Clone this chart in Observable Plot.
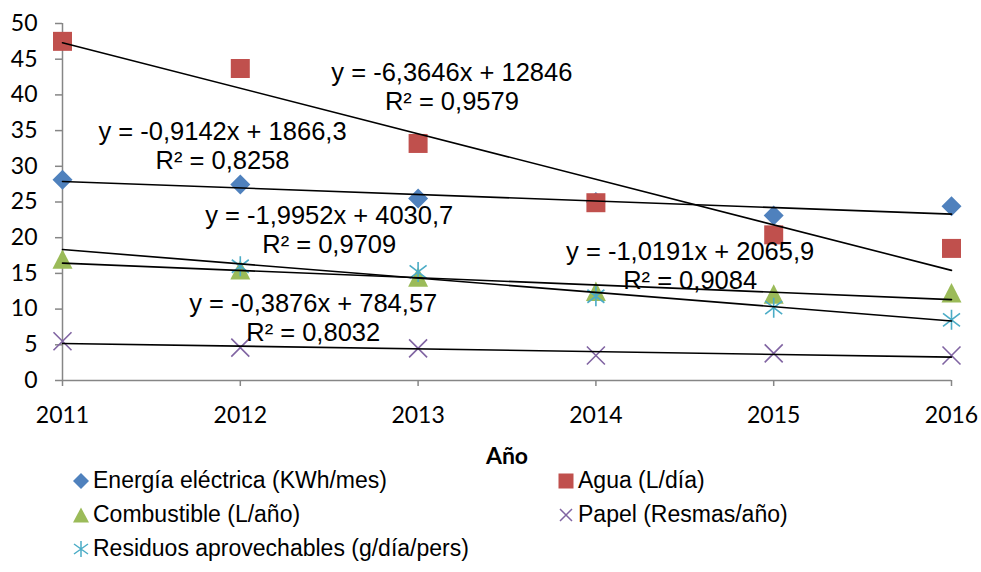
<!DOCTYPE html>
<html><head><meta charset="utf-8">
<script src="https://cdn.jsdelivr.net/npm/d3@7"></script>
<script src="https://cdn.jsdelivr.net/npm/@observablehq/plot@0.6"></script>
<style>
body{margin:0;background:#fff;}
#chart{position:relative;width:981px;height:572px;}
.legend{position:absolute;left:0;top:470px;width:981px;font-family:"Liberation Sans",Arial,sans-serif;font-size:23px;color:#000;}
.item{position:absolute;height:35px;line-height:35px;white-space:nowrap;display:flex;align-items:center;}
.item svg{margin-right:4px;flex:none;}
</style></head><body><div id="chart"></div><script>
// ---- data ----
const years = [2011, 2012, 2013, 2014, 2015, 2016];
const energia = [28.1, 27.45, 25.5, 25.0, 23.1, 24.4];
const agua = [47.5, 43.7, 33.2, 24.9, 20.4, 18.5];
const combustible = [16.9, 15.4, 14.4, 12.4, 12.0, 12.2];
const papel = [5.5, 4.6, 4.5, 3.5, 3.8, 3.5];
const residuos = [null, 16.0, 15.2, 11.8, 10.2, 8.5];
const seriesNames = ["Energía eléctrica (KWh/mes)", "Agua (L/día)", "Combustible (L/año)", "Papel (Resmas/año)", "Residuos aprovechables (g/día/pers)"];
const equations = ["y = -0,9142x + 1866,3", "y = -6,3646x + 12846", "y = -1,0191x + 2065,9", "y = -0,3876x + 784,57", "y = -1,9952x + 4030,7"];
const rSquared = ["R² = 0,8258", "R² = 0,9579", "R² = 0,9084", "R² = 0,8032", "R² = 0,9709"];
const yTicks = [0, 5, 10, 15, 20, 25, 30, 35, 40, 45, 50];
const xTicks = [2011, 2012, 2013, 2014, 2015, 2016];
// annotation anchor positions (data units)
const labelX = [2011.9, 2013.19, 2014.53, 2012.41, 2012.5];
const labelY = [33.0, 41.2, 16.2, 8.9, 21.2];

const colors = ["#4F81BD", "#C0504D", "#9BBB59", "#8064A2", "#4BACC6"];
const values = [energia, agua, combustible, papel, residuos];

// custom Excel-like marker symbols (unit = sqrt(size/PI) = r)
const mk = (fn) => ({draw(ctx, size) { const h = Math.sqrt(size / Math.PI) / 10; fn(ctx, h); }});
const symDiamond = mk((c, h) => { c.moveTo(0, -10*h); c.lineTo(10*h, 0); c.lineTo(0, 10*h); c.lineTo(-10*h, 0); c.closePath(); });
const symSquare = mk((c, h) => { c.moveTo(-9.5*h, -9.5*h); c.lineTo(9.5*h, -9.5*h); c.lineTo(9.5*h, 9.5*h); c.lineTo(-9.5*h, 9.5*h); c.closePath(); });
const symTriangle = mk((c, h) => { c.moveTo(0, -10.5*h); c.lineTo(10*h, 9*h); c.lineTo(-10*h, 9*h); c.closePath(); });
const symTimes = mk((c, h) => { c.moveTo(-9*h, -9*h); c.lineTo(9*h, 9*h); c.moveTo(-9*h, 9*h); c.lineTo(9*h, -9*h); });
const symAst = mk((c, h) => { c.moveTo(-8.5*h, -6.5*h); c.lineTo(8.5*h, 6.5*h); c.moveTo(-8.5*h, 6.5*h); c.lineTo(8.5*h, -6.5*h); c.moveTo(0, -10*h); c.lineTo(0, 10*h); });
const symbols = [symDiamond, symSquare, symTriangle, symTimes, symAst];
const filled = [true, true, true, false, false];

// tidy points
const points = [];
values.forEach((vals, s) => vals.forEach((v, i) => { if (v != null) points.push({s, x: years[i], y: v}); }));

// least-squares trend lines, drawn across the full year range
const trend = [];
values.forEach((vals, s) => {
  const pts = vals.map((v, i) => [years[i], v]).filter(d => d[1] != null);
  const mx = d3.mean(pts, d => d[0]), my = d3.mean(pts, d => d[1]);
  const b = d3.sum(pts, d => (d[0] - mx) * (d[1] - my)) / d3.sum(pts, d => (d[0] - mx) ** 2);
  const a = my - b * mx;
  [years[0], years[years.length - 1]].forEach(x => trend.push({s, x, y: a + b * x}));
});

const labels = equations.map((e, i) => ({x: labelX[i], y: labelY[i], text: e + "\n" + rSquared[i]}));

const marks = [
  Plot.ruleY([0], {stroke: "#868686", strokeWidth: 1.5}),
  Plot.ruleX([2011], {stroke: "#868686", strokeWidth: 1.5}),
  Plot.axisY({ticks: yTicks, tickSize: 7, tickPadding: 18, stroke: "#868686", strokeWidth: 1.5, strokeOpacity: 1,
    fontSize: 23, fontFamily: "Lato", fill: "#000", label: null}),
  Plot.axisX({ticks: xTicks, tickFormat: d => String(d), tickSize: 6, tickPadding: 20, stroke: "#868686", strokeWidth: 1.5, strokeOpacity: 1,
    fontSize: 23, fontFamily: "Lato", fill: "#000", label: null}),
  Plot.text(["Año"], {frameAnchor: "bottom", dy: 76, fontSize: 23, fontWeight: "bold", fontFamily: "Lato", fill: "#000", lineAnchor: "middle"})
];
symbols.forEach((sym, s) => {
  const data = points.filter(d => d.s === s);
  marks.push(Plot.dot(data, filled[s]
    ? {x: "x", y: "y", r: 10, symbol: sym, fill: colors[s], stroke: "none"}
    : {x: "x", y: "y", r: 10, symbol: sym, fill: "none", stroke: colors[s], strokeWidth: 1.6}));
});
marks.push(Plot.line(trend, {x: "x", y: "y", z: "s", stroke: "#000", strokeWidth: 1.6}));
marks.push(Plot.text(labels, {x: "x", y: "y", text: "text", fontSize: 25.5, fontFamily: "Liberation Sans", fill: "#000",
  lineAnchor: "middle", lineHeight: 1.14, textAnchor: "middle"}));

const plot = Plot.plot({
  width: 981, height: 470,
  marginLeft: 62, marginRight: 30, marginTop: 23, marginBottom: 90,
  x: {domain: [2011, 2016]},
  y: {domain: [0, 50]},
  style: {background: "#fff", overflow: "visible"},
  marks
});
const chart = document.getElementById("chart");
chart.appendChild(plot);

// legend (HTML, below the SVG)
const legend = document.createElement("div");
legend.className = "legend";
const legendPos = [[73, 0], [558, 0], [73, 1], [558, 1], [73, 2]];
const legendSyms = [
  '<path d="M8 0L16 8L8 16L0 8Z" fill="#4F81BD"/>',
  '<rect x="0.5" y="0.5" width="15" height="15" fill="#C0504D"/>',
  '<path d="M8 0.5L16 15.5L0 15.5Z" fill="#9BBB59"/>',
  '<path d="M2 2L14 14M2 14L14 2" stroke="#8064A2" stroke-width="1.5" fill="none"/>',
  '<path d="M1 3L15 13M1 13L15 3M8 0L8 16" stroke="#4BACC6" stroke-width="1.5" fill="none"/>'
];
seriesNames.forEach((name, i) => {
  const it = document.createElement("div");
  it.className = "item";
  it.style.left = legendPos[i][0] + "px";
  it.style.top = (legendPos[i][1] * 34 - 7) + "px";
  it.innerHTML = '<svg width="16" height="16" viewBox="0 0 16 16">' + legendSyms[i] + '</svg><span>' + name + '</span>';
  legend.appendChild(it);
});
chart.appendChild(legend);
</script></body></html>
